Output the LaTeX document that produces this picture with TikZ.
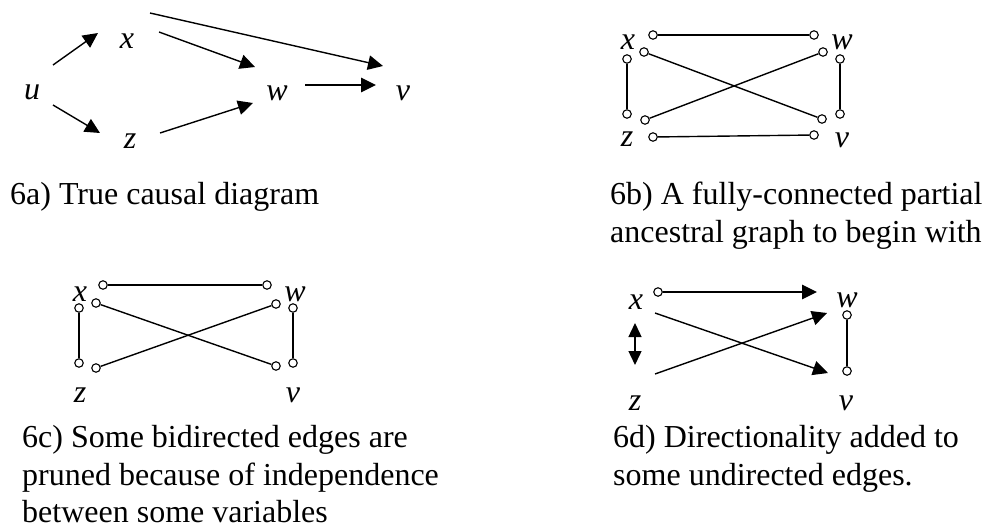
\documentclass[tikz,border=0pt]{standalone}
\usepackage{fontspec}
\setmainfont{Liberation Serif}
\usetikzlibrary{arrows.meta}
\tikzset{
  lbl/.style={inner sep=0pt, font=\fontsize{32}{38}\selectfont\itshape},
  captxt/.style={inner sep=0pt, anchor=base west, font=\fontsize{32}{38}\selectfont},
  ln/.style={line width=1.4pt},
  darr/.style={ln, -{Triangle[length=15pt,width=14.5pt]}},
  bidir/.style={ln, {Triangle[length=14pt,width=13pt]}-{Triangle[length=14pt,width=13pt]}},
  oc/.style={circle, draw, fill=white, inner sep=0pt, minimum size=8.5pt, line width=1.1pt}
}
\begin{document}
\begin{tikzpicture}[x=1pt,y=-1pt]
\useasboundingbox (0,0) rectangle (984,530);

% ---------- 6a ----------
\node[lbl] (au) at (32,92) {u};
\node[lbl] (ax) at (127,41) {x};
\node[lbl] (az) at (130,141) {z};
\node[lbl] (aw) at (277,93) {w};
\node[lbl] (av) at (403,93) {v};
\coordinate (aux0) at (53,65);  \coordinate (aux1) at (98,33);
\coordinate (auz0) at (53,105); \coordinate (auz1) at (100,133);
\coordinate (axw0) at (159,32); \coordinate (axw1) at (255,67);
\coordinate (axv0) at (150,13); \coordinate (axv1) at (383,66);
\coordinate (azw0) at (160,133);\coordinate (azw1) at (253,103);
\coordinate (awv0) at (305,85); \coordinate (awv1) at (376,85);
\draw[darr] (aux0) -- (aux1);
\draw[darr] (auz0) -- (auz1);
\draw[darr] (axw0) -- (axw1);
\draw[darr] (axv0) -- (axv1);
\draw[darr] (azw0) -- (azw1);
\draw[darr] (awv0) -- (awv1);
\node[captxt] (cap6a) at (10,204) {6a) True causal diagram};

% ---------- 6b ----------
\node[lbl] (bx) at (628,42) {x};
\node[lbl] (bw) at (842,42) {w};
\node[lbl] (bz) at (627,139) {z};
\node[lbl] (bv) at (842,140) {v};
\node[oc] (b1) at (653,35) {};  \node[oc] (b2) at (814,35) {};
\node[oc] (b3) at (644,52) {};  \node[oc] (b4) at (822,119) {};
\node[oc] (b5) at (645,120) {}; \node[oc] (b6) at (823,52) {};
\node[oc] (b7) at (627,59) {};  \node[oc] (b8) at (627,114) {};
\node[oc] (b9) at (840,59) {};  \node[oc] (b10) at (840,114) {};
\node[oc] (b11) at (653,137) {};\node[oc] (b12) at (814,135) {};
\draw[ln] (b1) -- (b2);
\draw[ln] (b3) -- (b4);
\draw[ln] (b5) -- (b6);
\draw[ln] (b7) -- (b8);
\draw[ln] (b9) -- (b10);
\draw[ln] (b11) -- (b12);
\node[captxt] (cap6b1) at (610,204) {6b) A fully-connected partial};
\node[captxt] (cap6b2) at (610,242) {ancestral graph to begin with};

% ---------- 6c ----------
\node[lbl] (cx) at (80,294) {x};
\node[lbl] (cw) at (295,294) {w};
\node[lbl] (cz) at (80,395) {z};
\node[lbl] (cv) at (293,395) {v};
\node[oc] (c1) at (103,285) {}; \node[oc] (c2) at (267,285) {};
\node[oc] (c3) at (96,303) {};  \node[oc] (c4) at (276,366) {};
\node[oc] (c5) at (96,368) {};  \node[oc] (c6) at (276,304) {};
\node[oc] (c7) at (79,308) {};  \node[oc] (c8) at (79,363) {};
\node[oc] (c9) at (293,308) {}; \node[oc] (c10) at (293,363) {};
\draw[ln] (c1) -- (c2);
\draw[ln] (c3) -- (c4);
\draw[ln] (c5) -- (c6);
\draw[ln] (c7) -- (c8);
\draw[ln] (c9) -- (c10);
\node[captxt] (cap6c1) at (22,447) {6c) Some bidirected edges are};
\node[captxt] (cap6c2) at (22,485) {pruned because of independence};
\node[captxt] (cap6c3) at (22,522) {between some variables};

% ---------- 6d ----------
\node[lbl] (dx) at (636,302) {x};
\node[lbl] (dw) at (847,300) {w};
\node[lbl] (dz) at (635,403) {z};
\node[lbl] (dv) at (846,403) {v};
\node[oc] (d1) at (658,292) {};
\coordinate (d2) at (817,292);
\coordinate (dxv0) at (655,313); \coordinate (dxv1) at (828,373);
\coordinate (dzw0) at (655,374); \coordinate (dzw1) at (827,313);
\coordinate (dbi0) at (635,323); \coordinate (dbi1) at (635,365);
\node[oc] (d3) at (847,315) {};  \node[oc] (d4) at (847,371) {};
\draw[darr] (d1) -- (d2);
\draw[darr] (dxv0) -- (dxv1);
\draw[darr] (dzw0) -- (dzw1);
\draw[bidir] (dbi0) -- (dbi1);
\draw[ln] (d3) -- (d4);
\node[captxt] (cap6d1) at (613,447) {6d) Directionality added to};
\node[captxt] (cap6d2) at (613,485) {some undirected edges.};
\end{tikzpicture}
\end{document}
